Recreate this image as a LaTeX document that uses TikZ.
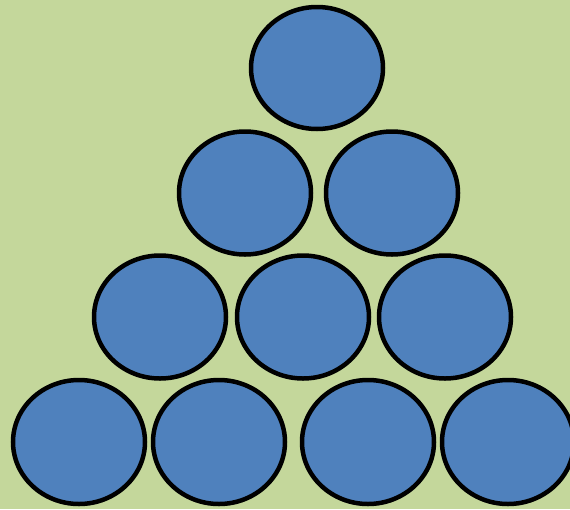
\documentclass[tikz,border=0pt]{standalone}
\usepackage{tikz}

\definecolor{bggreen}{RGB}{196,215,155}
\definecolor{ballblue}{RGB}{79,129,189}

\tikzset{
  ball/.style={fill=ballblue, draw=black, line width=4.5pt}
}

\begin{document}
\begin{tikzpicture}[x=1pt, y=-1pt]
  % Background
  \fill[bggreen] (0,0) rectangle (570,509);
  \useasboundingbox (0,0) rectangle (570,509);

  % Row 1 (top)
  \draw[ball] (317,68) ellipse (66pt and 61pt);

  % Row 2
  \foreach \x in {245,392}
    \draw[ball] (\x,193) ellipse (66pt and 61.5pt);

  % Row 3
  \foreach \x in {160,303,445}
    \draw[ball] (\x,317) ellipse (66pt and 61.5pt);

  % Row 4 (bottom)
  \foreach \x in {79,219,368,508}
    \draw[ball] (\x,442) ellipse (66pt and 62pt);

\end{tikzpicture}
\end{document}
